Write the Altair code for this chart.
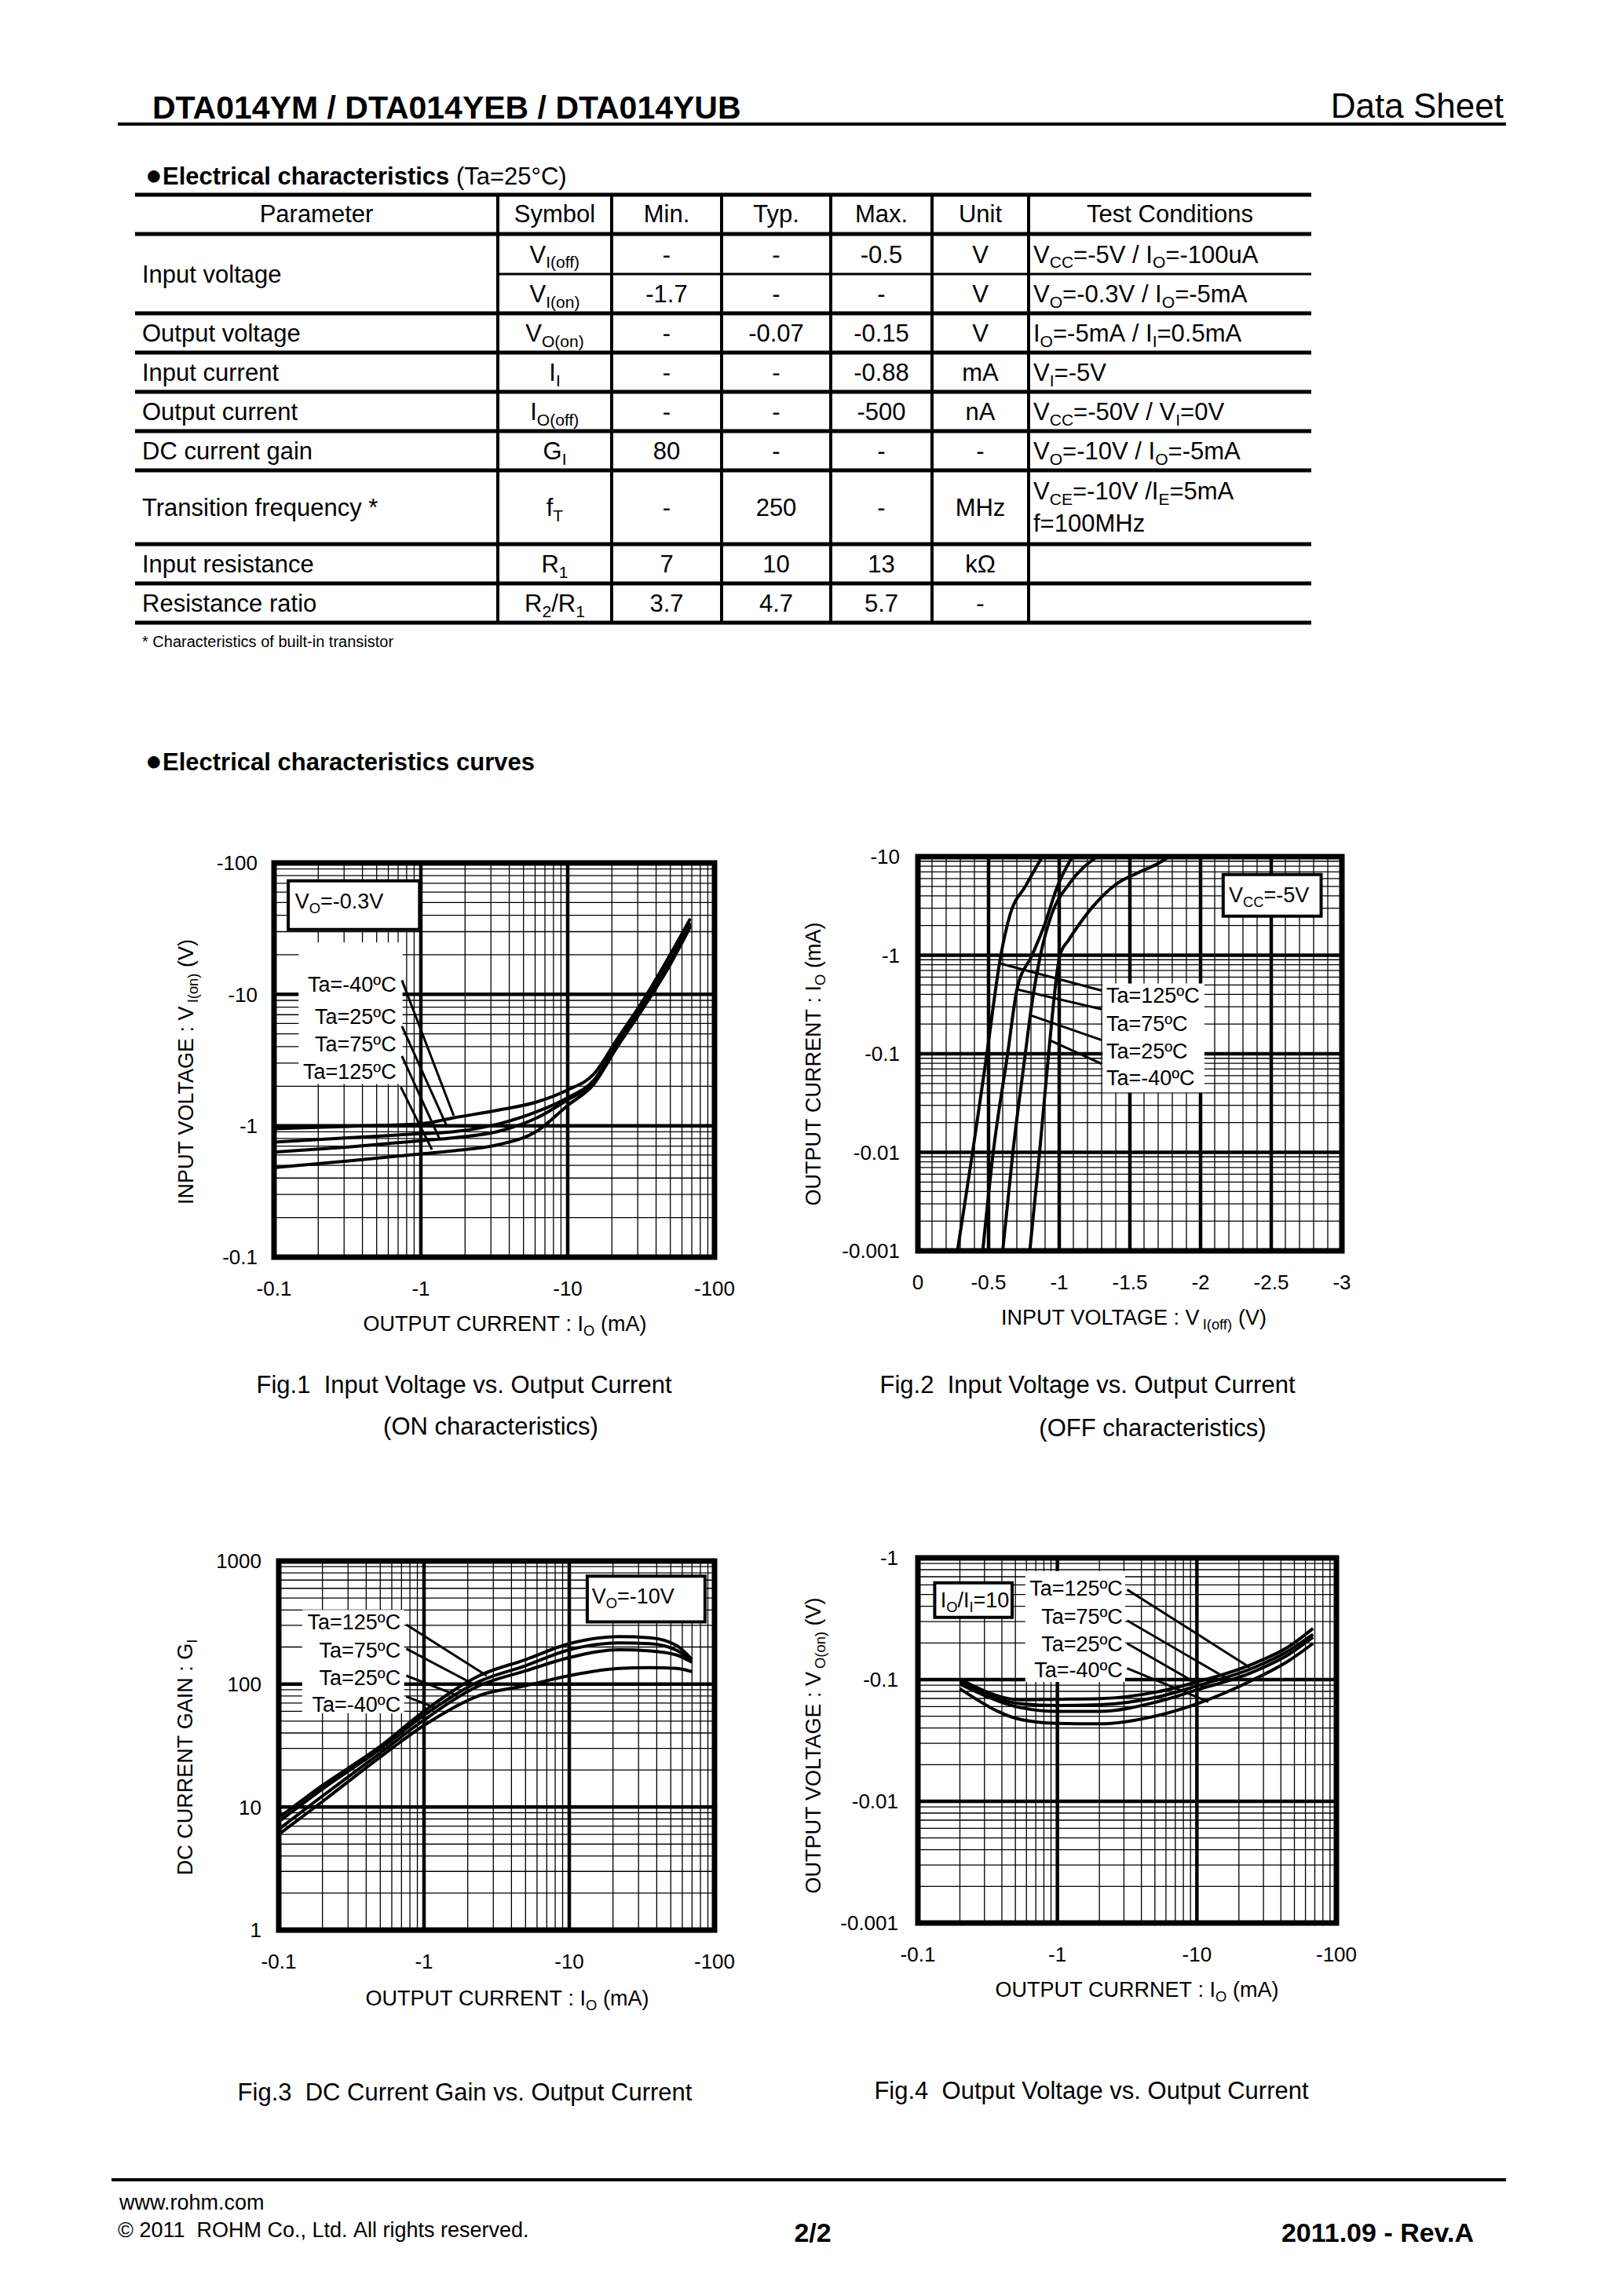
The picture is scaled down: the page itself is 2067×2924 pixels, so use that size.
import altair as alt
import pandas as pd

FONT = "Liberation Sans, Arial, sans-serif"
OFF = 8
W, H = 2051, 2908
NB = "\u00a0"

# ---------------- data: header and table ----------------
doc_title = "DTA014YM / DTA014YEB / DTA014YUB"
doc_kind = "Data Sheet"
table_heading = "Electrical characteristics"
table_heading_cond = " (Ta=25°C)"
table_header = ["Parameter", "Symbol", "Min.", "Typ.", "Max.", "Unit", "Test Conditions"]
param_names = ["Input voltage", "Output voltage", "Input current", "Output current",
               "DC current gain", "Transition frequency *", "Input resistance", "Resistance ratio"]
param_rows = [2, 1, 1, 1, 1, 1, 1, 1]
symbols = ["V_{I(off)}", "V_{I(on)}", "V_{O(on)}", "I_{I}", "I_{O(off)}", "G_{I}", "f_{T}", "R_{1}", "R_{2}/R_{1}"]
min_vals = ["-", "-1.7", "-", "-", "-", "80", "-", "7", "3.7"]
typ_vals = ["-", "-", "-0.07", "-", "-", "-", "250", "10", "4.7"]
max_vals = ["-0.5", "-", "-0.15", "-0.88", "-500", "-", "-", "13", "5.7"]
units = ["V", "V", "V", "mA", "nA", "-", "MHz", "kΩ", "-"]
conditions = [["V_{CC}=-5V / I_{O}=-100uA"], ["V_{O}=-0.3V / I_{O}=-5mA"], ["I_{O}=-5mA / I_{I}=0.5mA"],
              ["V_{I}=-5V"], ["V_{CC}=-50V / V_{I}=0V"], ["V_{O}=-10V / I_{O}=-5mA"],
              ["V_{CE}=-10V /I_{E}=5mA", "f=100MHz"], [], []]
footnote = "* Characteristics of built-in transistor"
curves_heading = "Electrical characteristics curves"
footer_url = "www.rohm.com"
footer_copy = "© 2011  ROHM Co., Ltd. All rights reserved."
footer_page = "2/2"
footer_rev = "2011.09 - Rev.A"

ta_names = ["Ta=-40ºC", "Ta=25ºC", "Ta=75ºC", "Ta=125ºC"]

# ---------------- data: Fig.1 (ON characteristics) ----------------
fig1_io = [-0.1, -0.32, -1.0, -1.68, -3.42, -6.18, -9.94, -15.1, -21.5, -32.6, -46.5, -68.4]
fig1_vi_m40 = [-0.95, -0.99, -1.035, -1.15, -1.32, -1.52, -1.87, -2.48, -4.48, -9.0, -17.5, -37.7]
fig1_vi_25 = [-0.75, -0.81, -0.87, -0.9, -1.035, -1.28, -1.63, -2.23, -4.18, -8.4, -15.7, -35.0]
fig1_vi_75 = [-0.63, -0.69, -0.77, -0.81, -0.91, -1.15, -1.57, -2.15, -4.04, -8.1, -15.2, -33.9]
fig1_vi_125 = [-0.48, -0.54, -0.61, -0.645, -0.72, -0.91, -1.42, -2.08, -3.9, -7.83, -14.7, -32.7]
fig1_xticks = [-0.1, -1, -10, -100]
fig1_xtick_labels = ["-0.1", "-1", "-10", "-100"]
fig1_yticks = [-0.1, -1, -10, -100]
fig1_ytick_labels = ["-0.1", "-1", "-10", "-100"]

# ---------------- data: Fig.2 (OFF characteristics) ----------------
fig2_v_125 = [-0.28, -0.387, -0.488, -0.587, -0.653, -0.76, -0.88]
fig2_i_125 = [-0.001, -0.01, -0.1, -1.0, -2.61, -4.99, -10.0]
fig2_v_75 = [-0.459, -0.533, -0.635, -0.701, -0.808, -0.893, -0.987, -1.093]
fig2_i_75 = [-0.001, -0.01, -0.1, -0.45, -1.0, -1.98, -4.99, -10.0]
fig2_v_25 = [-0.6, -0.672, -0.76, -0.795, -0.867, -0.947, -1.067, -1.267]
fig2_i_25 = [-0.001, -0.01, -0.1, -0.246, -1.0, -2.61, -5.23, -10.0]
fig2_v_m40 = [-0.792, -0.861, -0.925, -1.005, -1.067, -1.133, -1.24, -1.4, -1.56, -1.72, -1.773]
fig2_i_m40 = [-0.001, -0.01, -0.1, -1.0, -1.43, -1.98, -3.14, -5.23, -6.9, -8.87, -10.0]
fig2_xticks = [0, -0.5, -1, -1.5, -2, -2.5, -3]
fig2_xtick_labels = ["0", "-0.5", "-1", "-1.5", "-2", "-2.5", "-3"]
fig2_yticks = [-0.001, -0.01, -0.1, -1, -10]
fig2_ytick_labels = ["-0.001", "-0.01", "-0.1", "-1", "-10"]

# ---------------- data: Fig.3 (DC current gain) ----------------
fig3_io = [-0.1, -0.2, -0.5, -1.0, -2.4, -5.0, -10.0, -22.0, -36.0, -55.0, -70.0]
fig3_g_125 = [8.2, 15.0, 31.2, 60, 117, 158, 213, 243, 238, 205, 158]
fig3_g_75 = [7.6, 14.0, 29.6, 55.7, 105, 141, 190, 216, 213, 188, 155]
fig3_g_25 = [6.6, 12.3, 27.5, 51, 97, 128, 164, 190, 186, 172, 150]
fig3_g_m40 = [6.0, 11.1, 25.5, 46.2, 80.7, 97, 117, 134, 136, 134, 126]
fig3_yticks = [1, 10, 100, 1000]
fig3_ytick_labels = ["1", "10", "100", "1000"]

# ---------------- data: Fig.4 (output voltage) ----------------
fig4_io = [-0.2, -0.55, -1.0, -2.0, -5.2, -10.0, -25.0, -46.0, -68.0]
fig4_vo_125 = [-0.1007, -0.0682, -0.069, -0.0698, -0.0793, -0.0956, -0.134, -0.188, -0.263]
fig4_vo_75 = [-0.0956, -0.0633, -0.0612, -0.0621, -0.0719, -0.0887, -0.124, -0.174, -0.235]
fig4_vo_25 = [-0.092, -0.0587, -0.0548, -0.0548, -0.0657, -0.0823, -0.115, -0.162, -0.223]
fig4_vo_m40 = [-0.0841, -0.0469, -0.0437, -0.0433, -0.0506, -0.0633, -0.099, -0.144, -0.198]
fig4_yticks = [-0.001, -0.01, -0.1, -1]
fig4_ytick_labels = ["-0.001", "-0.01", "-0.1", "-1"]

# ---------------- text metrics (Arial / Liberation Sans) ----------------
REG = {' ': 278, '!': 278, '(': 333, ')': 333, '*': 389, ',': 278, '-': 333, '.': 278, '/': 278, ':': 278,
       '=': 584, 'A': 667, 'B': 667, 'C': 722, 'D': 722, 'E': 667, 'F': 611, 'G': 778, 'H': 722, 'I': 278,
       'K': 667, 'L': 556, 'M': 833, 'N': 722, 'O': 778, 'P': 667, 'R': 722, 'S': 667, 'T': 611, 'U': 722,
       'V': 667, 'W': 944, 'Y': 667, 'a': 556, 'b': 556, 'c': 500, 'd': 556, 'e': 556, 'f': 278, 'g': 556,
       'h': 556, 'i': 222, 'j': 222, 'k': 500, 'l': 222, 'm': 833, 'n': 556, 'o': 556, 'p': 556, 'q': 556,
       'r': 333, 's': 500, 't': 278, 'u': 556, 'v': 500, 'w': 722, 'x': 500, 'y': 500, 'z': 500, 'º': 365,
       '°': 400, 'Ω': 768, '©': 737}
for _d in "0123456789":
    REG[_d] = 556
BOLD = dict(REG)
BOLD.update({'A': 722, 'B': 722, 'a': 556, 'c': 556, 'h': 611, 'r': 389, 's': 556, 't': 333, 'u': 611,
             'v': 556, 'o': 611, 'n': 611, 'l': 278, 'i': 278, 'p': 611, ':': 333})
SUB = 0.68


def tw(s, fs, bold=False):
    tab = BOLD if bold else REG
    return sum(tab.get(ch, 556) for ch in s) * fs / 1000.0


def nb(s):
    return s.replace(" ", NB)


def parse(s):
    segs, buf, i = [], "", 0
    while i < len(s):
        if s.startswith("_{", i):
            if buf:
                segs.append((buf, False))
                buf = ""
            j = s.index("}", i)
            segs.append((s[i + 2:j], True))
            i = j + 1
        else:
            buf += s[i]
            i += 1
    if buf:
        segs.append((buf, False))
    return segs


def split_lead(t):
    """Return (number of leading spaces, text without leading/trailing spaces)."""
    lead = len(t) - len(t.lstrip(" "))
    return lead, t.strip(" ")


rows = []


def add_text(s, x, yc, fs, align="left", bold=False, angle=0):
    segs = parse(s)
    if len(segs) == 1 and not segs[0][1] and align != "left":
        base = 0.36 * fs
        if angle == 0:
            rows.append(dict(x=x - OFF, y=yc + base - OFF, t=nb(s.strip()), s=fs, b=int(bold), a=0, al=align))
        else:
            rows.append(dict(x=x + base - OFF, y=yc - OFF, t=nb(s.strip()), s=fs, b=int(bold), a=angle, al=align))
        return
    total = sum(tw(t, fs * (SUB if sb else 1), bold) for t, sb in segs)
    along = 0 if align == "left" else (-total / 2 if align == "center" else -total)
    for t, sb in segs:
        f = fs * SUB if sb else fs
        perp = 0.36 * fs + (0.22 * fs if sb else 0)
        lead, core = split_lead(t)
        pos = along + tw(" " * lead, f, bold)
        if core:
            if angle == 0:
                px, py = x + pos, yc + perp
            else:
                px, py = x + perp, yc - pos
            rows.append(dict(x=px - OFF, y=py - OFF, t=nb(core), s=f, b=int(bold), a=angle, al="left"))
        along += tw(t, f, bold)


lines = []


def add_line(x1, y1, x2, y2, w):
    lines.append(dict(x=x1 - OFF, x2=x2 - OFF, y=y1 - OFF, y2=y2 - OFF, w=w))


# ---------------- page: header ----------------
add_text(doc_title, 194, 136, 41, bold=True)
add_text(doc_kind, 1915, 134, 44, align="right")
add_line(150, 158, 1918, 158, 4)

add_text("●", 185, 222, 36)
add_text(table_heading, 207, 224, 31, bold=True)
add_text(table_heading_cond, 207 + tw(table_heading, 31, True), 224, 31)

# ---------------- page: table ----------------
col_edges = [172, 634, 779, 919, 1058, 1187, 1310, 1670]
row_edges = [248, 298, 349, 399, 449, 499, 549, 599, 693, 743, 793]
for y in [row_edges[0], row_edges[1]] + row_edges[3:]:
    add_line(col_edges[0], y, col_edges[-1], y, 5)
add_line(col_edges[1], row_edges[2], col_edges[-1], row_edges[2], 3)
for x in col_edges[1:-1]:
    add_line(x, row_edges[0], x, row_edges[-1], 4)

hdr_y = (row_edges[0] + row_edges[1]) / 2 - 1
for k, name in enumerate(table_header):
    cx = (col_edges[k] + col_edges[k + 1]) / 2
    add_text(name, cx, hdr_y, 31, align="center")

r = 0
for name, span in zip(param_names, param_rows):
    yc = (row_edges[1 + r] + row_edges[1 + r + span]) / 2
    add_text(name, 181, yc, 31)
    r += span

for i in range(len(symbols)):
    yc = (row_edges[1 + i] + row_edges[2 + i]) / 2
    for k, val in enumerate([symbols[i], min_vals[i], typ_vals[i], max_vals[i], units[i]]):
        cx = (col_edges[k + 1] + col_edges[k + 2]) / 2
        add_text(val, cx, yc, 31, align="center")
    cond = conditions[i]
    if len(cond) == 1:
        add_text(cond[0], 1316, yc, 31)
    elif len(cond) == 2:
        add_text(cond[0], 1316, yc - 21, 31)
        add_text(cond[1], 1316, yc + 20, 31)

add_text(footnote, 181, 817, 20)
add_text("●", 185, 968, 36)
add_text(curves_heading, 207, 970, 31, bold=True)

# ---------------- page: figure titles & captions ----------------
add_text("OUTPUT CURRENT : I_{O} (mA)", 643, 1685, 27, align="center")
add_text("INPUT VOLTAGE : V_{I(on)} (V)", 236, 1365, 27, align="center", angle=270)
add_text("Fig.1  Input Voltage vs. Output Current", 591, 1763, 31, align="center")
add_text("(ON characteristics)", 625, 1816, 31, align="center")

add_text("INPUT VOLTAGE : V_{I(off)} (V)", 1444, 1677, 27, align="center")
add_text("OUTPUT CURRENT : I_{O} (mA)", 1035, 1355, 27, align="center", angle=270)
add_text("Fig.2  Input Voltage vs. Output Current", 1385, 1763, 31, align="center")
add_text("(OFF characteristics)", 1468, 1818, 31, align="center")

add_text("OUTPUT CURRENT : I_{O} (mA)", 646, 2544, 27, align="center")
add_text("DC CURRENT GAIN : G_{I}", 235, 2238, 27, align="center", angle=270)
add_text("Fig.3  DC Current Gain vs. Output Current", 592, 2664, 31, align="center")

add_text("OUTPUT CURRNET : I_{O} (mA)", 1448, 2533, 27, align="center")
add_text("OUTPUT VOLTAGE : V_{O(on)} (V)", 1035, 2223, 27, align="center", angle=270)
add_text("Fig.4  Output Voltage vs. Output Current", 1390, 2662, 31, align="center")

# ---------------- page: footer ----------------
add_line(142, 2776, 1918, 2776, 4)
add_text(footer_url, 152, 2804, 27)
add_text(footer_copy, 150, 2839, 27)
add_text(footer_page, 1035, 2843, 34, align="center", bold=True)
add_text(footer_rev, 1877, 2843, 34, align="right", bold=True)

page_layers = []
ldf = pd.DataFrame(lines)
page_layers.append(
    alt.Chart(ldf).mark_rule(color="black").encode(
        x=alt.X("x:Q", scale=None, axis=None), x2="x2:Q",
        y=alt.Y("y:Q", scale=None, axis=None), y2="y2:Q",
        strokeWidth=alt.StrokeWidth("w:Q", scale=None, legend=None)))
tdf = pd.DataFrame(rows)
for (b, a, al), g in tdf.groupby(["b", "a", "al"]):
    page_layers.append(
        alt.Chart(g.reset_index(drop=True)).mark_text(
            font=FONT, fontWeight="bold" if b else "normal", angle=int(a), align=al,
            baseline="alphabetic", color="black").encode(
            x=alt.X("x:Q", scale=None, axis=None), y=alt.Y("y:Q", scale=None, axis=None),
            text="t:N", size=alt.Size("s:Q", scale=None, legend=None)))


# ---------------- figures ----------------
def logminor(decades, sign=-1):
    return [sign * round(d * k, 6) for d in decades for k in range(2, 10)]


def curves_df(series):
    out = []
    for name, xs_, ys_ in series:
        for i, (a, b) in enumerate(zip(xs_, ys_)):
            out.append(dict(x=a, y=b, s=name, i=i))
    return pd.DataFrame(out)


def leaders_df(segs):
    out = []
    for n, (p, q) in enumerate(segs):
        out.append(dict(x=p[0], y=p[1], s=n, i=0))
        out.append(dict(x=q[0], y=q[1], s=n, i=1))
    return pd.DataFrame(out)


def make_fig(c):
    xs = alt.Scale(type=c["xtype"], domain=c["xdom"], range=[c["L"] - OFF, c["R"] - OFF], nice=False)
    ys = alt.Scale(type=c["ytype"], domain=c["ydom"], range=[c["B"] - OFF, c["T"] - OFF], nice=False)

    def X(f):
        return alt.X(f, type="quantitative", scale=xs, axis=None)

    def Y(f):
        return alt.Y(f, type="quantitative", scale=ys, axis=None)

    (x0, x1), (y0, y1) = c["xdom"], c["ydom"]
    L = []
    for vals, sw in [(c["xminor"], 1.3), (c["xmajor"], 4.5)]:
        L.append(alt.Chart(pd.DataFrame({"x": vals, "ya": [y0] * len(vals), "yb": [y1] * len(vals)}))
                 .mark_rule(color="black", strokeWidth=sw).encode(x=X("x"), y=Y("ya"), y2=alt.Y2("yb")))
    for vals, sw in [(c["yminor"], 1.3), (c["ymajor"], 4.5)]:
        L.append(alt.Chart(pd.DataFrame({"y": vals, "xa": [x0] * len(vals), "xb": [x1] * len(vals)}))
                 .mark_rule(color="black", strokeWidth=sw).encode(y=Y("y"), x=X("xa"), x2=alt.X2("xb")))

    def box_df(b):
        return pd.DataFrame({"xa": [b[0]], "xb": [b[1]], "ya": [b[2]], "yb": [b[3]]})

    L.append(alt.Chart(box_df(c["label_box"])).mark_rect(color="white")
             .encode(x=X("xa"), x2=alt.X2("xb"), y=Y("ya"), y2=alt.Y2("yb")))
    L.append(alt.Chart(c["curves"]).mark_line(color="black", strokeWidth=4, interpolate="monotone")
             .encode(x=X("x"), y=Y("y"), detail="s:N", order="i:Q"))
    L.append(alt.Chart(c["leaders"]).mark_line(color="black", strokeWidth=3)
             .encode(x=X("x"), y=Y("y"), detail="s:N", order="i:Q"))
    L.append(alt.Chart(box_df([x0, x1, y0, y1])).mark_rect(fillOpacity=0, stroke="black", strokeWidth=7)
             .encode(x=X("xa"), x2=alt.X2("xb"), y=Y("ya"), y2=alt.Y2("yb")))
    L.append(alt.Chart(box_df(c["info_box"])).mark_rect(color="white", stroke="black", strokeWidth=4)
             .encode(x=X("xa"), x2=alt.X2("xb"), y=Y("ya"), y2=alt.Y2("yb")))

    # info text with subscripts
    s, tx, ty = c["info_text"]
    fs = 27
    df1 = pd.DataFrame({"x": [tx], "y": [ty]})
    along = 0
    for t, sb in parse(s):
        f = fs * SUB if sb else fs
        perp = 0.36 * fs + (0.22 * fs if sb else 0)
        L.append(alt.Chart(df1).mark_text(text=nb(t), font=FONT, fontSize=f, align="left", baseline="alphabetic",
                                          dx=along, dy=perp, color="black").encode(x=X("x"), y=Y("y")))
        along += tw(t, f)

    lab = c["labels"]
    L.append(alt.Chart(pd.DataFrame({"x": [lab["x"]] * len(lab["ys"]), "y": lab["ys"], "t": lab["texts"]}))
             .mark_text(font=FONT, fontSize=27, align=lab["align"], baseline="alphabetic", dy=0.36 * 27,
                        color="black").encode(x=X("x"), y=Y("y"), text="t:N"))

    xv, xt = c["xticks"]
    L.append(alt.Chart(pd.DataFrame({"v": xv, "t": xt})).mark_text(
        font=FONT, fontSize=26, align="center", baseline="alphabetic", dy=0.36 * 26, color="black")
        .encode(x=X("v"), y=alt.value(c["xlab_y"] - OFF), text="t:N"))
    yv, yt = c["yticks"]
    L.append(alt.Chart(pd.DataFrame({"v": yv, "t": yt})).mark_text(
        font=FONT, fontSize=26, align="right", baseline="alphabetic", dy=0.36 * 26, color="black")
        .encode(y=Y("v"), x=alt.value(c["ylab_x"] - OFF), text="t:N"))
    return alt.layer(*L)


log3 = [0.1, 1, 10]

F1 = dict(
    L=349, R=910, T=1099, B=1601, xtype="log", ytype="log", xdom=[-0.1, -100], ydom=[-0.1, -100],
    xminor=logminor(log3), xmajor=[-1, -10], yminor=logminor(log3), ymajor=[-1, -10],
    xticks=(fig1_xticks, fig1_xtick_labels), yticks=(fig1_yticks, fig1_ytick_labels),
    xlab_y=1641, ylab_x=328,
    curves=curves_df([("m40", fig1_io, fig1_vi_m40), ("25", fig1_io, fig1_vi_25),
                      ("75", fig1_io, fig1_vi_75), ("125", fig1_io, fig1_vi_125)]),
    leaders=leaders_df([((-0.743, -12.8), (-1.675, -1.19)), ((-0.743, -5.72), (-1.51, -0.98)),
                        ((-0.743, -3.39), (-1.34, -0.794)), ((-0.73, -1.97), (-1.19, -0.657))]),
    label_box=[-0.147, -0.75, -24.8, -2.08],
    labels=dict(x=-0.68, ys=[-11.9, -6.8, -4.18, -2.6], texts=ta_names, align="right"),
    info_box=[-0.125, -0.98, -73, -31.2], info_text=("V_{O}=-0.3V", -0.139, -51.5),
)

F2 = dict(
    L=1169, R=1709, T=1091, B=1593, xtype="linear", ytype="log", xdom=[0, -3], ydom=[-0.001, -10],
    xminor=[-round(i / 10, 2) for i in range(1, 30) if i % 5], xmajor=[-0.5, -1, -1.5, -2, -2.5],
    yminor=logminor([0.001, 0.01, 0.1, 1]), ymajor=[-0.01, -0.1, -1],
    xticks=(fig2_xticks, fig2_xtick_labels), yticks=(fig2_yticks, fig2_ytick_labels),
    xlab_y=1633, ylab_x=1146,
    curves=curves_df([("125", fig2_v_125, fig2_i_125), ("75", fig2_v_75, fig2_i_75),
                      ("25", fig2_v_25, fig2_i_25), ("m40", fig2_v_m40, fig2_i_m40)]),
    leaders=leaders_df([((-1.301, -0.438), (-0.587, -0.822)), ((-1.301, -0.283), (-0.701, -0.45)),
                        ((-1.301, -0.1377), (-0.795, -0.246)), ((-1.301, -0.0789), (-0.928, -0.138))]),
    label_box=[-1.307, -2.027, -0.517, -0.0406],
    labels=dict(x=-1.333, ys=[-0.392, -0.205, -0.107, -0.0577], texts=ta_names[::-1], align="left"),
    info_box=[-2.16, -2.853, -6.6, -2.49], info_text=("V_{CC}=-5V", -2.2, -4.15),
)

F3 = dict(
    L=355, R=910, T=1988, B=2458, xtype="log", ytype="log", xdom=[-0.1, -100], ydom=[1, 1000],
    xminor=logminor(log3), xmajor=[-1, -10], yminor=logminor([1, 10, 100], sign=1), ymajor=[10, 100],
    xticks=(fig1_xticks, fig1_xtick_labels), yticks=(fig3_yticks, fig3_ytick_labels),
    xlab_y=2498, ylab_x=333,
    curves=curves_df([("125", fig3_io, fig3_g_125), ("75", fig3_io, fig3_g_75),
                      ("25", fig3_io, fig3_g_25), ("m40", fig3_io, fig3_g_m40)]),
    leaders=leaders_df([((-0.755, 304), (-2.7, 117)), ((-0.755, 194), (-2.15, 101)),
                        ((-0.755, 117), (-1.69, 80.8)), ((-0.755, 79), (-1.22, 63.7))]),
    label_box=[-0.145, -0.73, 401, 57.8],
    labels=dict(x=-0.69, ys=[320, 190, 113, 68.6], texts=ta_names[::-1], align="right"),
    info_box=[-13.3, -86, 754, 320], info_text=("V_{O}=-10V", -14.3, 520),
)

F4 = dict(
    L=1169, R=1702, T=1984, B=2449, xtype="log", ytype="log", xdom=[-0.1, -100], ydom=[-0.001, -1],
    xminor=logminor(log3), xmajor=[-1, -10], yminor=logminor([0.001, 0.01, 0.1]), ymajor=[-0.01, -0.1],
    xticks=(fig1_xticks, fig1_xtick_labels), yticks=(fig4_yticks, fig4_ytick_labels),
    xlab_y=2489, ylab_x=1144,
    curves=curves_df([("125", fig4_io, fig4_vo_125), ("75", fig4_io, fig4_vo_75),
                      ("25", fig4_io, fig4_vo_25), ("m40", fig4_io, fig4_vo_m40)]),
    leaders=leaders_df([((-3.16, -0.549), (-23.9, -0.126)), ((-3.16, -0.306), (-17.5, -0.0978)),
                        ((-3.16, -0.198), (-11.3, -0.0855)), ((-3.16, -0.124), (-12.1, -0.0657))]),
    label_box=[-0.589, -3.06, -0.78, -0.0955],
    labels=dict(x=-2.94, ys=[-0.565, -0.334, -0.198, -0.12], texts=ta_names[::-1], align="right"),
    info_box=[-0.132, -0.474, -0.623, -0.325], info_text=("I_{O}/I_{I}=10", -0.145, -0.452),
)

figs = [make_fig(c) for c in (F1, F2, F3, F4)]

chart = alt.layer(*page_layers, *figs).resolve_scale(
    x="independent", y="independent"
).properties(
    width=W, height=H, autosize=alt.AutoSizeParams(type="none"), padding=0, background="white"
).configure_view(strokeWidth=0)

chart.save("out.html", embed_options={"renderer": "svg", "actions": False})
